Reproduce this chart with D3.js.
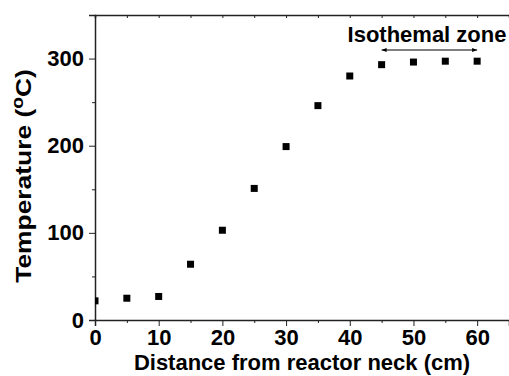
<!DOCTYPE html>
<html>
<head>
<meta charset="utf-8">
<script src="https://cdn.jsdelivr.net/npm/d3@7"></script>
<style>
  body { margin: 0; background: #fff; }
  text { font-family: "Liberation Sans", Arial, sans-serif; font-weight: bold; }
</style>
</head>
<body>
<div id="wrapper"></div>
<script>
// data
const distance = [0, 5, 10, 15, 20, 25, 30, 35, 40, 45, 50, 55, 60];
const temperature = [22, 25, 27, 64, 103, 151, 199, 246, 280, 293, 296, 297, 297];
const xTicks = [0, 10, 20, 30, 40, 50, 60];
const yTicks = [0, 100, 200, 300];
const zoneStart = 45, zoneEnd = 60;

const dimension = {
  width: 509,
  height: 376,
  margin: { top: 15, left: 95, bottom: 56, right: 0 }
};
dimension.boundedWidth = dimension.width - dimension.margin.left - dimension.margin.right;
dimension.boundedHeight = dimension.height - dimension.margin.top - dimension.margin.bottom;

const svg = d3.select("#wrapper").append("svg")
  .attr("width", dimension.width)
  .attr("height", dimension.height);

const xScaler = d3.scaleLinear().domain([0, 65]).range([0, dimension.boundedWidth]);
const yScaler = d3.scaleLinear().domain([0, 350]).range([dimension.boundedHeight, 0]);

const defs = svg.append("defs");
defs.append("clipPath").attr("id", "clip")
  .append("rect").attr("width", dimension.boundedWidth).attr("height", dimension.boundedHeight);

const bounded = svg.append("g")
  .attr("transform", `translate(${dimension.margin.left},${dimension.margin.top})`);

// minor ticks
const xMinor = d3.range(5, 65, 10);
const yMinor = d3.range(50, 350, 100);

const xAxis = bounded.append("g")
  .attr("transform", `translate(0,${dimension.boundedHeight})`)
  .call(d3.axisBottom(xScaler).tickValues(xTicks).tickSize(6).tickPadding(3).tickFormat(d3.format("d")));
bounded.append("g")
  .attr("transform", `translate(0,${dimension.boundedHeight})`)
  .call(d3.axisBottom(xScaler).tickValues(xMinor).tickSize(3).tickFormat(""))
  .select(".domain").remove();

const yAxis = bounded.append("g")
  .call(d3.axisLeft(yScaler).tickValues(yTicks).tickSize(6).tickPadding(5));
bounded.append("g")
  .call(d3.axisLeft(yScaler).tickValues(yMinor).tickSize(3).tickFormat(""))
  .select(".domain").remove();

// top axis with inward ticks
bounded.append("g")
  .call(d3.axisTop(xScaler).tickValues(xTicks.concat(xMinor)).tickSize(-3).tickFormat(""));

bounded.selectAll(".domain").attr("stroke", "#222").attr("stroke-width", 1.5);
bounded.selectAll(".tick line").attr("stroke", "#222").attr("stroke-width", 1);
bounded.selectAll(".tick text").attr("fill", "#000").style("font-size", "22px");
xAxis.selectAll(".tick text").attr("dy", "0.72em");

// points
const sq = 7;
bounded.append("g").attr("clip-path", "url(#clip)")
  .selectAll("rect")
  .data(distance)
  .join("rect")
  .attr("x", (d) => xScaler(d) - sq / 2)
  .attr("y", (d, i) => yScaler(temperature[i]) - sq / 2)
  .attr("width", sq)
  .attr("height", sq)
  .attr("fill", "#000");

// isothermal zone arrow
defs.append("marker").attr("id", "arrowEnd")
  .attr("viewBox", "0 0 10 10").attr("refX", 10).attr("refY", 5)
  .attr("markerWidth", 8).attr("markerHeight", 5).attr("orient", "auto-start-reverse")
  .attr("markerUnits", "userSpaceOnUse")
  .append("path").attr("d", "M0,1 L10,5 L0,9 Z").attr("fill", "#000");

const arrowY = 35;
bounded.append("line")
  .attr("x1", xScaler(zoneStart)).attr("x2", xScaler(zoneEnd))
  .attr("y1", arrowY).attr("y2", arrowY)
  .attr("stroke", "#000").attr("stroke-width", 1)
  .attr("marker-start", "url(#arrowEnd)")
  .attr("marker-end", "url(#arrowEnd)");

bounded.append("text")
  .attr("x", 427 - dimension.margin.left)
  .attr("y", 27)
  .attr("text-anchor", "middle")
  .style("font-size", "22px")
  .text("Isothemal zone");

// axis titles
svg.append("text")
  .attr("x", dimension.margin.left + dimension.boundedWidth / 2)
  .attr("y", 370)
  .attr("text-anchor", "middle")
  .style("font-size", "22px")
  .text("Distance from reactor neck (cm)");

const yTitle = svg.append("text")
  .attr("transform", "translate(31,176) rotate(-90) scale(1.2,1)")
  .attr("text-anchor", "middle")
  .style("font-size", "22px");
yTitle.append("tspan").text("Temperature (");
yTitle.append("tspan").attr("dy", "-8").style("font-size", "16px").text("o");
yTitle.append("tspan").attr("dy", "8").text("C)");
</script>
</body>
</html>
